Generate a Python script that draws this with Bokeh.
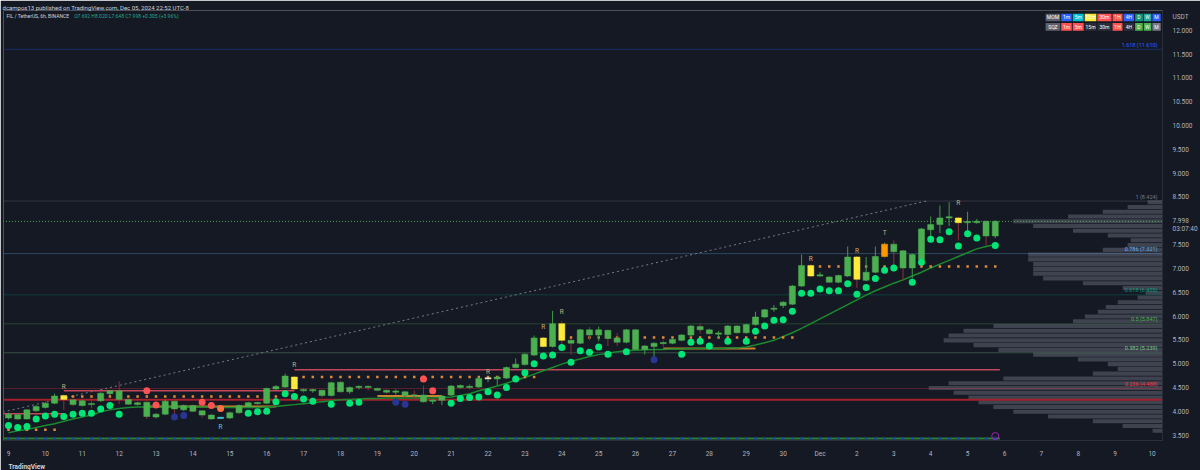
import numpy as np
from bokeh.plotting import figure
from bokeh.models import ColumnDataSource, FixedTicker, PrintfTickFormatter, Label, Range1d, Title
from bokeh.core.properties import value
from bokeh.embed import file_html
from bokeh.resources import INLINE

# ---------------- data ----------------
opens = [3.87,3.94,3.85,4.02,4.09,4.18,4.34,4.25,4.13,4.17,
         4.23,4.38,4.44,4.26,4.15,4.20,3.89,3.95,4.22,4.04,
         4.13,4.02,3.93,3.86,3.87,3.98,4.11,4.19,4.18,4.48,
         4.52,4.73,4.47,4.44,4.45,4.34,4.62,4.42,4.51,4.53,
         4.49,4.45,4.41,4.42,4.35,4.35,4.22,4.24,4.35,4.51,
         4.53,4.52,4.69,4.69,4.71,4.93,4.99,5.19,5.55,5.37,
         5.85,5.50,5.44,5.72,5.61,5.71,5.55,5.46,5.72,5.31,
         5.37,5.44,5.44,5.50,5.61,5.79,5.72,5.63,5.62,5.80,
         5.66,5.83,5.99,6.15,6.23,6.26,6.64,7.07,6.85,6.83,
         6.72,6.85,7.25,6.76,6.93,7.26,7.52,7.38,7.02,7.19,
         7.82,7.93,8.07,8.07,7.97,7.97,8.00,7.692]
closes = [3.95,3.85,4.04,4.11,4.18,4.33,4.26,4.15,4.23,4.15,
          4.39,4.44,4.26,4.16,4.19,3.90,3.95,4.22,4.06,4.13,
          4.01,3.93,3.85,3.88,3.98,4.13,4.19,4.17,4.49,4.53,
          4.75,4.48,4.44,4.45,4.34,4.61,4.42,4.51,4.53,4.51,
          4.45,4.41,4.43,4.34,4.33,4.21,4.24,4.33,4.54,4.55,
          4.51,4.70,4.71,4.73,4.93,5.00,5.21,5.55,5.37,5.85,
          5.50,5.44,5.72,5.61,5.72,5.54,5.46,5.72,5.31,5.38,
          5.44,5.43,5.52,5.61,5.80,5.72,5.64,5.64,5.80,5.66,
          5.83,5.99,6.14,6.17,6.30,6.64,7.07,6.85,6.86,6.72,
          6.86,7.25,6.78,6.93,7.26,7.52,7.36,7.02,7.30,7.84,
          7.93,8.07,8.09,7.97,7.98,8.00,7.69,7.998]
highs = [3.98,3.96,4.05,4.14,4.20,4.38,4.36,4.27,4.25,4.23,
         4.41,4.46,4.64,4.28,4.21,4.22,3.97,4.25,4.24,4.15,
         4.15,4.04,3.96,3.89,4.00,4.15,4.21,4.21,4.51,4.56,
         4.80,4.75,4.50,4.48,4.47,4.63,4.64,4.53,4.55,4.55,
         4.51,4.47,4.47,4.44,4.45,4.55,4.26,4.35,4.56,4.57,
         4.58,4.72,4.72,4.75,4.95,5.12,5.23,5.60,5.57,6.12,
         5.90,5.53,5.74,5.78,5.79,5.73,5.65,5.74,5.74,5.40,
         5.46,5.50,5.54,5.63,5.82,5.85,5.75,5.70,5.82,5.82,
         5.85,6.10,6.16,6.24,6.32,6.66,7.30,7.10,6.93,6.85,
         6.88,7.47,7.27,7.25,7.47,7.55,7.60,7.40,7.32,7.86,
         8.10,8.33,8.40,8.09,8.20,8.05,8.02,8.020]
lows = [3.84,3.83,3.84,4.00,4.07,4.16,4.04,4.12,4.11,4.08,
        4.21,4.35,4.16,4.14,4.13,3.85,3.86,3.93,3.90,4.02,
        3.99,3.88,3.83,3.85,3.85,3.96,4.09,4.15,4.16,4.46,
        4.50,4.46,4.40,4.40,4.30,4.32,4.40,4.38,4.47,4.45,
        4.43,4.38,4.36,4.30,4.28,4.19,4.16,4.14,4.33,4.49,
        4.47,4.50,4.62,4.55,4.69,4.91,4.97,5.17,5.35,5.35,
        5.40,5.20,5.42,5.50,5.48,5.38,5.38,5.44,5.29,5.20,
        5.10,5.37,5.42,5.48,5.59,5.64,5.62,5.55,5.60,5.64,
        5.64,5.81,5.97,6.10,6.18,6.24,6.62,6.83,6.84,6.70,
        6.70,6.83,6.60,6.74,6.91,7.24,7.00,6.75,6.80,7.17,
        7.62,7.75,7.90,7.60,7.75,7.95,7.50,7.648]
ma_line = [3.56,3.60,3.63,3.67,3.71,3.75,3.80,3.85,3.89,3.93,
           4.00,4.04,4.07,4.09,4.10,4.10,4.10,4.10,4.10,4.10,
           4.10,4.10,4.10,4.09,4.09,4.09,4.09,4.09,4.10,4.11,
           4.13,4.15,4.17,4.19,4.21,4.23,4.25,4.26,4.27,4.28,
           4.28,4.29,4.29,4.29,4.29,4.29,4.29,4.30,4.31,4.34,
           4.38,4.44,4.49,4.54,4.60,4.66,4.72,4.79,4.86,4.93,
           5.00,5.06,5.11,5.16,5.20,5.23,5.26,5.28,5.29,5.30,
           5.31,5.31,5.32,5.32,5.33,5.33,5.33,5.33,5.34,5.34,
           5.36,5.40,5.45,5.50,5.58,5.66,5.75,5.85,5.95,6.05,
           6.15,6.25,6.35,6.45,6.54,6.62,6.70,6.77,6.85,6.93,
           7.02,7.10,7.18,7.26,7.34,7.42,7.47,7.51]
# signal dots per bar: price and kind (g=green, r=red, o=orange-red, b=blue, '-'=none)
dot_price = [3.71,3.67,3.69,3.85,3.91,3.95,3.90,3.95,3.97,3.97,
             4.06,4.13,3.95,None,None,4.44,4.14,None,3.89,3.92,
             None,4.20,4.13,4.07,None,None,3.97,4.00,4.01,4.21,
             4.38,4.32,4.27,4.22,None,4.16,None,4.18,4.20,None,
             None,None,4.20,4.16,None,4.69,4.44,None,4.18,4.28,
             4.30,4.31,4.42,4.35,4.51,4.69,4.82,5.01,5.17,5.19,
             5.35,5.04,5.28,5.25,5.36,5.21,None,5.26,None,None,
             5.09,None,None,5.21,5.46,5.48,5.38,None,5.48,None,
             5.48,5.69,5.80,5.92,5.93,6.11,6.49,6.49,6.58,6.54,
             6.54,6.69,6.47,6.61,6.80,6.97,7.02,None,6.72,7.14,
             7.62,7.61,7.78,7.48,7.74,7.65,None,7.49]
dot_kind = list("g" * 13 + "--" + "rr" + "-" + "bb" + "-" + "rr" + "o" + "--" + "g" * 8 + "-" + "g"
                + "-" + "gg" + "---" + "bb" + "-" + "rr" + "-" + "g" * 18 + "-" + "g" + "--" + "b"
                + "--" + "g" * 4 + "-" + "g" + "-" + "g" * 17 + "-" + "g" * 8 + "-" + "g")
yellow_bars = [6, 31, 58, 60, 87, 92, 103]
orange_bars = [95]
cyan_bars = [23]
cream_bars = [52]
r_above_bars = [6, 31, 52, 58, 60, 87, 92, 103]
r_above_price = [4.53, 4.99, 4.83, 5.78, 6.10, 7.20, 7.38, 8.38]
t_above_bars = [95]
t_above_price = [7.76]
r_below_bars = [23]
r_below_price = [3.67]
# trailing resistance dots (orange)
odot_start = [0, 7, 32, 61, 88]
odot_end = [5, 29, 57, 85, 107]
odot_level = [3.62, 4.32, 4.73, 5.56, 7.05]
# resistance lines
pink_start = [-1, 6, 31]
pink_end = [6, 31, 107.5]
pink_level = [3.96, 4.44, 4.88]
orange_start = [15, 40, 71]
orange_end = [29, 47, 81]
orange_level = [4.11, 4.33, 5.33]
red_level = 4.254
base_level = 3.44
# fibonacci
fib_ratio = ["0.236", "0.382", "0.5", "0.618", "0.786", "1", "1.618"]
fib_price = [4.488, 5.239, 5.847, 6.455, 7.321, 8.424, 11.610]
fib_color = ["#f23645", "#81c784", "#4caf50", "#089981", "#64b5f6", "#787b86", "#2962ff"]
fib_anchor_bar = [-17, 99.5]
fib_anchor_price = [3.270, 8.424]
# volume profile
vp_price = [3.6,3.7,3.8,3.9,4.0,4.1,4.2,4.3,4.4,4.5,4.6,4.7,4.8,4.9,
            5.0,5.1,5.2,5.3,5.4,5.5,5.6,5.7,5.8,5.9,6.0,6.1,6.2,6.3,
            6.4,6.5,6.6,6.7,6.8,6.9,7.0,7.1,7.2,7.3,7.4,7.5,7.6,7.7,
            7.8,7.9,8.0,8.1,8.2,8.3,8.4]
vp_volume = [10,40,70,115,150,170,185,195,210,235,215,160,70,45,
             55,85,130,165,190,220,215,200,170,90,78,65,57,45,
             25,17,40,80,120,130,130,130,135,135,60,35,32,55,
             90,130,150,95,60,35,15]
# axes
price_ticks = [3.5 + 0.5 * k for k in range(18) if k != 9]
day_labels = [str(d) for d in range(9, 31)] + ["Dec"] + [str(d) for d in range(2, 11)]
last_price = 7.998
countdown = "03:07:40"
currency = "USDT"
# dashboard table
tbl_cols = ["1m", "5m", "15m", "30m", "1H", "4H", "D", "W", "M"]
tbl_rows = ["MOM", "SQZ"]
tbl_mom_colors = ["#2962ff", "#00bcd4", "#ffeb3b", "#ff5252", "#ff5252", "#2962ff", "#089981", "#26a69a", "#2962ff"]
tbl_sqz_colors = ["#ff5252", "#ff5252", "#2a2e39", "#2a2e39", "#ff5252", "#2a2e39", "#4caf50", "#4caf50", "#787b86"]

# ---------------- layout helpers ----------------
PXB = 9.27                   # pixels per bar
FL, FT = 3, 10               # frame left / top (page px)
FW, FH = 1165, 437
X0 = (FL - 8) / PXB          # bar 0 sits at page x = 8
X1 = X0 + FW / PXB
PXU = 48.4                   # pixels per price unit
Y0 = 3.5 - 5 / PXU           # 3.5 sits at page y = 442
Y1 = Y0 + FH / PXU

def bx(page_x):
    return X0 + (page_x - FL) / PXB

def py(page_y):
    return 3.5 + (442 - page_y) / PXU

BG = "#151924"
TXT = "#b2b5be"
FONT = value("Roboto")

p = figure(width=1200, height=470, x_range=Range1d(X0, X1), y_range=Range1d(Y0, Y1),
           output_backend="svg", toolbar_location=None, y_axis_location="right",
           min_border_left=FL, min_border_right=1200 - FL - FW, min_border_top=FT,
           min_border_bottom=470 - FT - FH,
           background_fill_color=BG, border_fill_color=BG, outline_line_color=None)
p.xgrid.visible = False
p.ygrid.visible = False

p.title.text = "dcampos13 published on TradingView.com, Dec 05, 2024 22:52 UTC-8"
p.title.text_font_size = "6px"
p.title.text_font = "Roboto"
p.title.text_font_style = "normal"
p.title.text_color = "#d1d4dc"
p.title.standoff = 0
p.title.offset = -1

extra_ticks = [last_price, py(232), py(16.5)]
p.yaxis.ticker = FixedTicker(ticks=price_ticks + extra_ticks)
p.yaxis.formatter = PrintfTickFormatter(format="%.3f")
p.yaxis.major_label_overrides = {last_price: f"{last_price:.3f}", py(232): countdown, py(16.5): currency}
p.xaxis.ticker = FixedTicker(ticks=[4 * k for k in range(len(day_labels))])
p.xaxis.major_label_overrides = {4 * k: lab for k, lab in enumerate(day_labels)}
for ax in (p.xaxis, p.yaxis):
    ax.major_label_text_font_size = "6.5px"
    ax.major_label_text_color = TXT
    ax.major_label_text_font = "Roboto"
    ax.major_tick_line_color = None
    ax.minor_tick_line_color = None
    ax.axis_line_color = "#2a2e39"
    ax.major_label_standoff = 4
p.xaxis.major_label_standoff = 3

p.add_layout(Title(text="TradingView", text_font_size="6.5px", text_font="Roboto",
                   text_font_style="bold", text_color="#d1d4dc", align="left", offset=5, standoff=0),
             "below")

n = len(opens)
assert len(closes) == n and len(highs) == n and len(lows) == n and len(ma_line) == n
assert len(dot_price) == n and len(dot_kind) == n
xs = list(range(n))

# volume profile
vmax = max(vp_volume)
vp_w = [v / vmax * (235 / PXB) for v in vp_volume]
p.quad(left=[X1 - w for w in vp_w], right=[X1] * len(vp_w),
       bottom=[v - 0.043 for v in vp_price], top=[v + 0.043 for v in vp_price],
       fill_color="#4d515d", fill_alpha=0.75, line_color=None)

# fib lines
p.segment(x0=[fib_anchor_bar[0]] * len(fib_price), x1=[X1 + 5] * len(fib_price),
          y0=fib_price, y1=fib_price, line_color=fib_color, line_alpha=0.3, line_width=1)
p.line(fib_anchor_bar, fib_anchor_price, line_color="#787b86", line_dash="2 3", line_width=1)
p.text(x=[bx(1163)] * len(fib_price), y=[v + 0.03 for v in fib_price],
       text=[f"{r} ({v:.3f})" for r, v in zip(fib_ratio, fib_price)],
       text_color=fib_color, text_font_size="5.5px", text_align="right",
       text_baseline="bottom", text_font=FONT)

# horizontal levels
p.segment(x0=[X0 - 2], x1=[X1 + 2], y0=[red_level], y1=[red_level], line_color="#a3202c", line_width=2)
p.segment(x0=pink_start, x1=pink_end, y0=pink_level, y1=pink_level, line_color="#c2475a", line_width=1.5)
p.segment(x0=orange_start, x1=orange_end, y0=orange_level, y1=orange_level, line_color="#c9822f", line_width=2)
p.segment(x0=[X0 - 2], x1=[107.5], y0=[base_level], y1=[base_level], line_color="#2e7d32", line_width=2)
p.scatter(x=xs, y=[base_level] * n, marker="square", size=2.5, fill_color="#1a3fb0", line_color=None)
p.segment(x0=[X0 - 2], x1=[X1 + 2], y0=[last_price], y1=[last_price], line_color="#4caf50",
          line_dash="1 2", line_width=1)

# moving average
p.line(xs, ma_line, line_color="#1b8a2e", line_width=1.5)

# trailing dots
ox, oy = [], []
for s, e, lv in zip(odot_start, odot_end, odot_level):
    for i in range(s, e + 1):
        ox.append(i)
        oy.append(lv)
p.scatter(ox, oy, marker="square", size=2.5, fill_color="#e0883a", line_color=None)

# candles
bull = [c >= o for o, c in zip(opens, closes)]
wick_col = ["#3f9a47" if b else "#8e2f3a" for b in bull]
body_col = []
for i in range(n):
    if i in yellow_bars:
        body_col.append("#ffeb3b")
    elif i in orange_bars:
        body_col.append("#ff9800")
    elif i in cyan_bars:
        body_col.append("#4dd0e1")
    elif i in cream_bars:
        body_col.append("#f3e5c4")
    else:
        body_col.append("#4caf50")
top = [max(o, c) for o, c in zip(opens, closes)]
bot = [min(o, c) for o, c in zip(opens, closes)]
top = [t if t - b >= 0.025 else b + 0.025 for t, b in zip(top, bot)]
csrc = ColumnDataSource(dict(x=xs, o=opens, c=closes, h=highs, l=lows, top=top, bot=bot,
                             wc=wick_col, bc=body_col))
p.segment(x0="x", x1="x", y0="l", y1="h", line_color="wc", line_width=1, source=csrc)
p.vbar(x="x", top="top", bottom="bot", width=0.66, fill_color="bc", line_color="bc",
       line_width=0.5, source=csrc)

# signal dots
dot_colors = {"g": "#00e676", "r": "#ff5252", "o": "#ff7043", "b": "#283593"}
dx, dy, dc = [], [], []
for i, (v, k) in enumerate(zip(dot_price, dot_kind)):
    if v is not None and k in dot_colors:
        dx.append(i)
        dy.append(v)
        dc.append(dot_colors[k])
p.scatter(dx, dy, size=7, fill_color=dc, line_color=None)

# R / T markers
p.text(x=r_above_bars + t_above_bars + r_below_bars,
       y=r_above_price + t_above_price + r_below_price,
       text=["R"] * len(r_above_bars) + ["T"] * len(t_above_bars) + ["R"] * len(r_below_bars),
       text_color=["#c4ad7e"] * (len(r_above_bars) + len(t_above_bars)) + ["#4dd0e1"],
       text_font_size="6.5px", text_align="center", text_baseline="middle", text_font=FONT)

# event marker
p.scatter([107], [3.49], size=7, fill_color=None, line_color="#9c27b0", line_width=1)

# dashboard table
col_w = [15.7, 11.6, 12, 12.7, 15.3, 11, 11.7, 8.7, 8.6, 9.4]
edges = [1050.0]
for w in col_w:
    edges.append(edges[-1] + w)
row_y = [(13.3, 20.8), (22.6, 30.7)]
qx0, qx1, qy0, qy1, qc, tx, ty, tt = [], [], [], [], [], [], [], []
for r, (ya, yb) in enumerate(row_y):
    cols = ["#5d606b"] + (tbl_mom_colors if r == 0 else tbl_sqz_colors)
    labs = [tbl_rows[r]] + tbl_cols
    for j in range(len(cols)):
        qx0.append(bx(edges[j] + 0.5))
        qx1.append(bx(edges[j + 1] - 0.5))
        qy0.append(py(yb))
        qy1.append(py(ya))
        qc.append(cols[j])
        tx.append(bx((edges[j] + edges[j + 1]) / 2))
        ty.append(py((ya + yb) / 2))
        tt.append(labs[j])
p.quad(left=qx0, right=qx1, bottom=qy0, top=qy1, fill_color=qc, line_color=None)
p.text(x=tx, y=ty, text=tt, text_color="#ffffff", text_font_size="5px", text_align="center",
       text_baseline="middle", text_font=FONT)

# legend line of the chart
p.add_layout(Label(x=bx(6), y=py(15.5), text="FIL / TetherUS, 6h, BINANCE",
                   text_color="#d1d4dc", text_font_size="5px", text_baseline="middle", text_font="Roboto"))
p.add_layout(Label(x=bx(74), y=py(15.5), text="O7.692 H8.020 L7.648 C7.998 +0.305 (+3.96%)",
                   text_color="#22ab94", text_font_size="5px", text_baseline="middle", text_font="Roboto"))

open("out.html", "w").write(file_html(p, INLINE))
